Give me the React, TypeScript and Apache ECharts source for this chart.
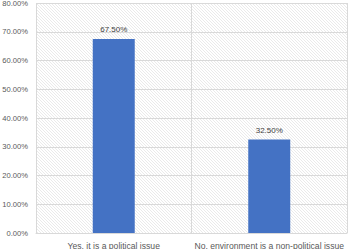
import React, { useEffect, useRef } from "react";
import * as echarts from "echarts";

const categories = ["Yes, it is a political issue", "No, environment is a non-political issue"];
const values = [0.675, 0.325];
const yMin = 0;
const yMax = 0.8;
const yInterval = 0.1;

function makeHatch(): HTMLCanvasElement {
  const c = document.createElement("canvas");
  const s = 3;
  c.width = s;
  c.height = s;
  const ctx = c.getContext("2d")!;
  ctx.fillStyle = "#ffffff";
  ctx.fillRect(0, 0, s, s);
  ctx.strokeStyle = "#e4e4e4";
  ctx.lineWidth = 0.8;
  ctx.beginPath();
  ctx.moveTo(-1, -1);
  ctx.lineTo(s + 1, s + 1);
  ctx.moveTo(-1, s - 1);
  ctx.lineTo(1, s + 1);
  ctx.moveTo(s - 1, -1);
  ctx.lineTo(s + 1, 1);
  ctx.stroke();
  return c;
}

export default function App() {
  const ref = useRef<HTMLDivElement>(null);
  useEffect(() => {
    document.body.style.margin = "0";
    if (!ref.current) return;
    const chart = echarts.init(ref.current, undefined, { renderer: "svg" });
    const font = "'Liberation Sans', Arial, sans-serif";
    chart.setOption({
      animation: false,
      grid: {
        left: 36,
        right: 3,
        top: 3,
        bottom: 16,
        show: true,
        borderWidth: 0,
        containLabel: false,
        outerBoundsMode: "none",
        backgroundColor: {
          image: makeHatch(),
          imageWidth: 3,
          imageHeight: 3,
          repeat: "repeat",
        },
      },
      xAxis: {
        type: "category",
        data: categories,
        axisLine: { show: true, lineStyle: { color: "#d9d9d9", width: 1 } },
        axisTick: { show: false },
        splitLine: { show: true, lineStyle: { color: "#d9d9d9", width: 1 } },
        axisLabel: { color: "#595959", fontSize: 8.6, fontFamily: font, margin: 8, interval: 0, hideOverlap: false },
      },
      yAxis: {
        type: "value",
        min: yMin,
        max: yMax,
        interval: yInterval,
        axisLine: { show: false },
        axisTick: { show: false },
        splitLine: { show: true, lineStyle: { color: "#d9d9d9", width: 1 } },
        axisLabel: {
          color: "#595959",
          fontSize: 7.6,
          fontFamily: font,
          margin: 8,
          hideOverlap: false,
          formatter: (v: number) => (v * 100).toFixed(2) + "%",
        },
      },
      series: [
        {
          type: "bar",
          data: values,
          barWidth: "27%",
          itemStyle: { color: "#4472C4" },
          label: {
            show: true,
            position: "top",
            distance: 5,
            color: "#404040",
            fontSize: 8,
            fontFamily: font,
            formatter: (p: any) => (p.value * 100).toFixed(2) + "%",
          },
        },
      ],
    });
    return () => chart.dispose();
  }, []);
  return <div ref={ref} style={{ width: 350, height: 249 }} />;
}
